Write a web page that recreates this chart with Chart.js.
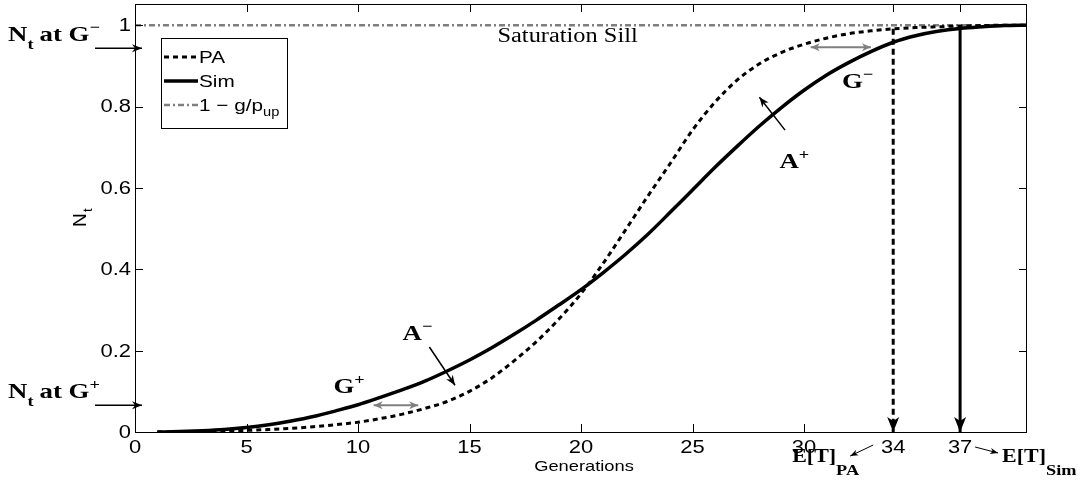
<!DOCTYPE html>
<html>
<head>
<meta charset="utf-8">
<script src="https://cdn.jsdelivr.net/npm/chart.js@4.4.0/dist/chart.umd.min.js"></script>
<style>
html, body { margin: 0; padding: 0; background: #fff; }
</style>
</head>
<body>
<canvas id="chart" width="1087" height="489"></canvas>
<script>
// values
var generations = [1,2,3,4,5,6,7,8,9,10,11,12,13,14,15,16,17,18,19,20,
                   21,22,23,24,25,26,27,28,29,30,31,32,33,34,35,36,37,38,39,40];
var paValues = [0.000,0.000,0.001,0.002,0.004,0.006,0.009,0.013,0.018,0.024,
                0.033,0.044,0.058,0.075,0.100,0.133,0.175,0.222,0.277,0.340,
                0.415,0.497,0.580,0.660,0.742,0.810,0.865,0.905,0.933,0.953,
                0.968,0.979,0.986,0.991,0.994,0.996,0.998,0.999,1.000,1.000];
var simValues = [0.000,0.001,0.003,0.006,0.011,0.018,0.027,0.038,0.052,0.067,
                 0.085,0.104,0.125,0.150,0.177,0.207,0.240,0.275,0.312,0.350,
                 0.392,0.437,0.486,0.540,0.595,0.650,0.702,0.752,0.798,0.840,
                 0.877,0.908,0.935,0.958,0.974,0.985,0.992,0.996,0.999,1.000];
var sillValue = 1;
var xTicks = [0, 5, 10, 15, 20, 25, 30, 34, 37];
var yTicks = [0, 0.2, 0.4, 0.6, 0.8, 1];
var yTickLabels = ['0', '0.2', '0.4', '0.6', '0.8', '1'];
var etPA = 34;
var etSim = 37;
var ntAtGPlus = 0.066;
var ntAtGMinus = 0.943;

var SANS = '"Liberation Sans", Arial, sans-serif';
var SERIF = '"Liberation Serif", "Times New Roman", serif';
var GREY = '#7f7f7f';
var DASHDOT = [6, 3, 2, 3];
var SX = 1.22; // the original figure's text is stretched sideways

function pts(xs, ys) {
    return xs.map(function (x, i) { return {x: x, y: ys[i]}; });
}

function txt(ctx, s, x, y, font, align) {
    ctx.save();
    ctx.font = font;
    var w = ctx.measureText(s).width * SX;
    var x0 = align === 'center' ? x - w / 2 : (align === 'right' ? x - w : x);
    ctx.translate(x0, y);
    ctx.scale(SX, 1);
    ctx.textAlign = 'left';
    ctx.fillText(s, 0, 0);
    ctx.restore();
    return w;
}

// a run of text pieces, each with its own size and vertical shift
function rich(ctx, parts, x, y) {
    parts.forEach(function (p) {
        var f = (p.bold ? 'bold ' : '') + p.size + 'px ' + (p.family || SERIF);
        x += txt(ctx, p.t, x, y + (p.dy || 0), f, 'left') + (p.gap || 0);
    });
    return x;
}

function arrow(ctx, x1, y1, x2, y2, color, lw, len, wid, both) {
    ctx.save();
    ctx.strokeStyle = color;
    ctx.fillStyle = color;
    ctx.lineWidth = lw;
    ctx.setLineDash([]);
    ctx.beginPath();
    ctx.moveTo(x1, y1);
    ctx.lineTo(x2, y2);
    ctx.stroke();
    var heads = both ? [[x2, y2, x1, y1], [x1, y1, x2, y2]] : [[x1, y1, x2, y2]];
    heads.forEach(function (h) {
        var ang = Math.atan2(h[3] - h[1], h[2] - h[0]);
        ctx.save();
        ctx.translate(h[2], h[3]);
        ctx.rotate(ang);
        ctx.beginPath();
        ctx.moveTo(0, 0);
        ctx.lineTo(-len, -wid / 2);
        ctx.lineTo(-len * 0.7, 0);
        ctx.lineTo(-len, wid / 2);
        ctx.closePath();
        ctx.fill();
        ctx.restore();
    });
    ctx.restore();
}

var annotate = {
    id: 'annotate',
    afterDraw: function (chart) {
        var ctx = chart.ctx;
        var xs = chart.scales.x, ys = chart.scales.y, a = chart.chartArea;
        var X = function (v) { return xs.getPixelForValue(v); };
        var Y = function (v) { return ys.getPixelForValue(v); };
        ctx.save();

        // box and inward ticks
        ctx.strokeStyle = '#000';
        ctx.lineWidth = 1;
        ctx.setLineDash([]);
        ctx.strokeRect(a.left + 0.5, a.top + 0.5, a.right - a.left - 1, a.bottom - a.top);
        ctx.beginPath();
        xTicks.forEach(function (v) {
            var px = Math.round(X(v)) + 0.5;
            ctx.moveTo(px, a.bottom); ctx.lineTo(px, a.bottom - 8);
            ctx.moveTo(px, a.top); ctx.lineTo(px, a.top + 8);
        });
        yTicks.forEach(function (v) {
            var py = Math.round(Y(v)) + 0.5;
            ctx.moveTo(a.left, py); ctx.lineTo(a.left + 8, py);
            ctx.moveTo(a.right, py); ctx.lineTo(a.right - 8, py);
        });
        ctx.stroke();

        // tick labels
        ctx.fillStyle = '#000';
        ctx.textBaseline = 'middle';
        xTicks.forEach(function (v) {
            txt(ctx, String(v), X(v), a.bottom + 16, '18px ' + SANS, 'center');
        });
        yTicks.forEach(function (v, i) {
            txt(ctx, yTickLabels[i], a.left - 4, Y(v) + 1, '18px ' + SANS, 'right');
        });
        ctx.textBaseline = 'alphabetic';

        // arrowheads of the E[T] verticals
        [etPA, etSim].forEach(function (v) {
            var px = X(v), py = Y(0);
            ctx.fillStyle = '#000';
            ctx.beginPath();
            ctx.moveTo(px, py);
            ctx.lineTo(px - 6, py - 15);
            ctx.lineTo(px, py - 11);
            ctx.lineTo(px + 6, py - 15);
            ctx.closePath();
            ctx.fill();
        });

        // axis titles
        txt(ctx, 'Generations', (a.left + a.right) / 2 + 3, a.bottom + 39, '15px ' + SANS, 'center');
        ctx.save();
        ctx.translate(86, 227);
        ctx.rotate(-Math.PI / 2);
        ctx.font = '19px ' + SANS;
        ctx.fillText('N', 0, 0);
        ctx.font = '13px ' + SANS;
        ctx.fillText('t', 15, 6);
        ctx.restore();

        // legend
        var lx = 161, ly = 38, lw = 126, lh = 90;
        ctx.fillStyle = '#fff';
        ctx.fillRect(lx, ly, lw, lh);
        ctx.strokeStyle = '#000';
        ctx.lineWidth = 1;
        ctx.strokeRect(lx + 0.5, ly + 0.5, lw, lh);
        var rows = [
            {label: [{t: 'PA', size: 17, family: SANS}], color: '#000', dash: [5, 4], width: 3},
            {label: [{t: 'Sim', size: 17, family: SANS}], color: '#000', dash: [], width: 3.5},
            {label: [{t: '1 \u2212 g/p', size: 17, family: SANS}, {t: 'up', size: 12, dy: 5, family: SANS}],
             color: GREY, dash: DASHDOT, width: 2.5}
        ];
        rows.forEach(function (r, i) {
            var ry = ly + 19 + i * 24;
            ctx.strokeStyle = r.color;
            ctx.lineWidth = r.width;
            ctx.setLineDash(r.dash);
            ctx.beginPath();
            ctx.moveTo(lx + 3, ry);
            ctx.lineTo(lx + 37, ry);
            ctx.stroke();
            ctx.setLineDash([]);
            ctx.fillStyle = '#000';
            rich(ctx, r.label, lx + 38, ry + 6);
        });

        // text in the plot
        ctx.fillStyle = '#000';
        txt(ctx, 'Saturation Sill', X(19.4), Y(sillValue) + 17, '20px ' + SERIF, 'center');

        rich(ctx, [{t: 'G', size: 22, bold: true}, {t: '\u2212', size: 15, bold: true, dy: -9}], X(31.7), Y(0.865) + 8);
        rich(ctx, [{t: 'A', size: 22, bold: true}, {t: '+', size: 15, bold: true, dy: -9}], X(28.9), Y(0.668) + 8);
        rich(ctx, [{t: 'A', size: 22, bold: true}, {t: '\u2212', size: 15, bold: true, dy: -9}], X(12.0), Y(0.246) + 8);
        rich(ctx, [{t: 'G', size: 22, bold: true}, {t: '+', size: 15, bold: true, dy: -9}], X(8.9), Y(0.115) + 8);

        arrow(ctx, X(30.3), Y(0.946), X(33.0), Y(0.946), GREY, 2, 9, 8, true);
        arrow(ctx, X(10.7), Y(0.066), X(12.7), Y(0.066), GREY, 2, 9, 8, true);
        arrow(ctx, X(29.15), Y(0.742), X(28.0), Y(0.823), '#000', 1.5, 10, 8, false);
        arrow(ctx, X(13.2), Y(0.209), X(14.35), Y(0.115), '#000', 1.5, 10, 8, false);

        // labels outside the axes
        [[ntAtGMinus, '\u2212'], [ntAtGPlus, '+']].forEach(function (g) {
            var py = Y(g[0]);
            ctx.fillStyle = '#000';
            rich(ctx, [{t: 'N', size: 22, bold: true}, {t: 't', size: 15, bold: true, dy: 8, gap: 6},
                       {t: 'at G', size: 22, bold: true}, {t: g[1], size: 15, bold: true, dy: -9}], 8, py - 7);
            arrow(ctx, 95, py, a.left + 7, py, '#000', 1.5, 10, 8, false);
        });

        ctx.fillStyle = '#000';
        rich(ctx, [{t: 'E[T]', size: 18, bold: true}, {t: 'PA', size: 15, bold: true, dy: 13}], X(etPA) - 101, a.bottom + 30);
        arrow(ctx, X(etPA) - 20, a.bottom + 13, X(etPA) - 43, a.bottom + 24, '#000', 1, 8, 6, false);
        rich(ctx, [{t: 'E[T]', size: 18, bold: true}, {t: 'Sim', size: 15, bold: true, dy: 13}], X(etSim) + 42, a.bottom + 30);
        arrow(ctx, X(etSim) + 15, a.bottom + 15, X(etSim) + 38, a.bottom + 21, '#000', 1, 8, 6, false);

        ctx.restore();
    }
};

var config = {
    type: 'line',
    data: {
        datasets: [{
            label: 'PA',
            data: pts(generations, paValues),
            borderColor: '#000',
            borderWidth: 3,
            borderDash: [5, 4],
            pointRadius: 0,
            cubicInterpolationMode: 'monotone'
        }, {
            label: 'Sim',
            data: pts(generations, simValues),
            borderColor: '#000',
            borderWidth: 3.5,
            pointRadius: 0,
            cubicInterpolationMode: 'monotone'
        }, {
            label: '1 - g/p_up',
            data: [{x: 0, y: sillValue}, {x: 40, y: sillValue}],
            borderColor: GREY,
            borderWidth: 2.5,
            borderDash: DASHDOT,
            pointRadius: 0
        }, {
            label: 'E[T] PA',
            data: [{x: etPA, y: paValues[generations.indexOf(etPA)]}, {x: etPA, y: 0}],
            borderColor: '#000',
            borderWidth: 3,
            borderDash: [6, 4],
            pointRadius: 0
        }, {
            label: 'E[T] Sim',
            data: [{x: etSim, y: simValues[generations.indexOf(etSim)]}, {x: etSim, y: 0}],
            borderColor: '#000',
            borderWidth: 3,
            pointRadius: 0
        }]
    },
    options: {
        responsive: false,
        animation: false,
        devicePixelRatio: 1,
        layout: {padding: {left: 0, right: 60, top: 4, bottom: 0}},
        plugins: {
            legend: {display: false},
            title: {display: false},
            tooltip: {enabled: false}
        },
        scales: {
            x: {
                type: 'linear',
                min: 0,
                max: 40,
                afterFit: function (scale) {
                    scale.height = 57;
                    scale.paddingLeft = 0;
                    scale.paddingRight = 0;
                },
                grid: {display: false, drawTicks: false},
                border: {display: false},
                ticks: {display: false}
            },
            y: {
                type: 'linear',
                min: 0,
                max: 1.052,
                afterFit: function (scale) {
                    scale.width = 135;
                    scale.paddingTop = 0;
                    scale.paddingBottom = 0;
                },
                grid: {display: false, drawTicks: false},
                border: {display: false},
                ticks: {display: false}
            }
        }
    },
    plugins: [annotate]
};

window.myChart = new Chart(document.getElementById('chart').getContext('2d'), config);
</script>
</body>
</html>
